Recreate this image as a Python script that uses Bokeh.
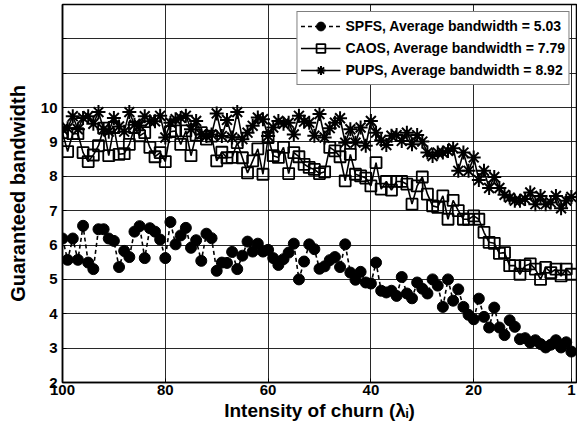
from bokeh.plotting import figure
from bokeh.models import Range1d, FixedTicker, Legend
from bokeh.embed import file_html
from bokeh.resources import INLINE

x_vals = list(range(100, 0, -1))

spfs = [6.19, 5.57, 6.19, 5.57, 6.56, 5.49, 5.3, 6.46, 6.46, 6.19,
        6.12, 5.36, 5.83, 5.65, 6.39, 6.55, 5.62, 6.49, 6.39, 6.16,
        5.62, 6.67, 6.02, 6.28, 6.5, 5.92, 6.14, 5.54, 6.33, 6.2,
        5.25, 5.49, 5.48, 5.8, 5.3, 5.69, 6.1, 5.81, 6.04, 5.81,
        5.86, 5.62, 5.42, 5.59, 5.78, 6.04, 5.0, 5.52, 6.02,
        5.88, 5.31, 5.38, 5.56, 5.65, 5.36, 6.02, 5.2, 4.99, 5.22,
        4.91, 4.88, 5.49, 4.67, 4.62, 4.67, 4.52, 5.07, 4.59, 4.45,
        4.91, 4.73, 4.59, 5.0, 4.82, 4.2, 5.0, 4.38, 4.71, 4.2,
        3.97, 3.84, 4.44, 3.91, 3.6, 4.18, 3.6, 3.38, 3.81, 3.62,
        3.26, 3.29, 3.16, 3.23, 3.12, 3.02, 3.1, 3.23, 3.02, 3.17, 2.9]

caos = [9.27, 8.72, 9.24, 9.24, 8.69, 8.43, 8.62, 8.89, 9.4, 8.6,
        9.42, 8.64, 8.66, 8.93, 9.42, 9.18, 9.27, 8.84, 8.57, 8.69, 8.43,
        9.3, 9.32, 8.93, 9.32, 8.6, 9.2, 9.27, 9.08, 9.17, 8.45,
        8.7, 8.54, 8.55, 8.98, 8.54, 8.1, 8.45, 8.8, 8.06, 9.13,
        8.6, 8.55, 8.84, 8.08, 8.69, 8.57, 8.35, 8.26,
        8.2, 8.08, 8.13, 8.84, 8.74, 8.57, 7.87, 8.64, 8.06, 8.01,
        7.95, 7.72, 8.4, 7.63, 7.85, 7.6, 7.85, 7.85, 7.77, 7.19,
        7.72, 7.98, 7.48, 7.14, 7.1, 7.43, 6.75, 7.3, 7.0, 6.75,
        6.75, 6.85, 6.75, 6.37, 6.08, 6.05, 5.76,
        5.78, 5.4, 5.4, 5.15, 5.4, 5.45, 5.3, 5.0, 5.35, 5.2,
        5.3, 5.1, 5.3, 5.15]

pups = [9.37, 9.4, 9.75, 9.37, 9.7, 9.75, 9.53, 9.87, 9.37, 9.3,
        9.7, 9.45, 9.3, 9.87, 9.5, 9.48, 9.75, 9.6, 9.6,
        9.76, 9.13, 9.56, 9.66, 9.7, 9.76, 9.37, 9.61, 9.22, 9.17,
        9.22, 9.83, 9.17, 9.64, 9.13, 9.87, 9.08, 9.27, 9.47, 9.71,
        9.66, 9.17, 9.42, 9.61, 9.53, 9.56, 9.22, 9.76, 9.59, 9.56,
        9.18, 9.81, 9.13, 9.4, 9.56, 9.69, 8.98, 9.37, 8.98, 9.42,
        8.89, 9.61, 9.27, 9.05, 8.91, 9.18, 9.2, 9.03, 9.27, 8.93,
        9.2, 9.01, 8.69, 8.59, 8.69, 8.69, 8.74, 8.82, 8.16, 8.69,
        8.16, 8.55, 7.89, 8.16, 7.66, 7.98, 7.66, 7.46, 7.38, 7.29,
        7.29, 7.34, 7.53, 7.19, 7.43, 7.19, 7.24, 7.43, 7.07, 7.29, 7.4]

labels = ["SPFS, Average bandwidth = 5.03",
          "CAOS, Average bandwidth = 7.79",
          "PUPS, Average bandwidth = 8.92"]

x_ticks = [100, 80, 60, 40, 20, 1]
y_ticks = [2, 3, 4, 5, 6, 7, 8, 9, 10, 11, 12, 13]
y_tick_labels = {11: "", 12: "", 13: ""}

FONT = "Liberation Sans"

p = figure(width=577, height=432, output_backend="svg", toolbar_location=None,
           x_range=Range1d(100, 0), y_range=Range1d(2, 13),
           min_border_left=62, min_border_right=1, min_border_top=4,
           min_border_bottom=50)
p.background_fill_color = "white"
p.border_fill_color = "white"
p.outline_line_color = "black"
p.outline_line_width = 1.5

# grid
p.xgrid.ticker = FixedTicker(ticks=x_ticks)
p.ygrid.ticker = FixedTicker(ticks=y_ticks)
for g in (p.xgrid, p.ygrid):
    g.grid_line_color = "#111111"
    g.grid_line_width = 1
    g.grid_line_alpha = 0.9

# axes
p.xaxis.ticker = FixedTicker(ticks=x_ticks)
p.yaxis.ticker = FixedTicker(ticks=y_ticks)
p.yaxis.major_label_overrides = y_tick_labels
for ax in (p.xaxis, p.yaxis):
    ax.axis_line_color = "black"
    ax.axis_line_width = 1.5
    ax.major_tick_in = 4
    ax.major_tick_out = 0
    ax.minor_tick_line_color = None
    ax.major_tick_line_color = "black"
    ax.major_label_text_font = FONT
    ax.major_label_text_font_style = "bold"
    ax.major_label_text_font_size = "15px"
    ax.major_label_text_color = "black"
    ax.axis_label_text_font = FONT
    ax.axis_label_text_font_style = "bold"
    ax.axis_label_text_color = "black"
p.xaxis.axis_label_text_font_size = "19px"
p.yaxis.axis_label_text_font_size = "20px"
p.xaxis.axis_label = "Intensity of churn (λᵢ)"
p.yaxis.axis_label = "Guaranteed bandwidth"
p.xaxis.major_label_standoff = 2
p.xaxis.axis_label_standoff = 2
p.yaxis.major_label_standoff = 5
p.yaxis.axis_label_standoff = 9

# series
l1 = p.line(x_vals, spfs, line_color="black", line_width=1.6, line_dash="4 3")
s1 = p.scatter(x_vals, spfs, marker="circle", size=11, fill_color="black",
               line_color="black")
l2 = p.line(x_vals, caos, line_color="black", line_width=1.6)
s2 = p.scatter(x_vals, caos, marker="square", size=11, fill_alpha=0,
               line_color="black", line_width=1.8)
l3 = p.line(x_vals, pups, line_color="black", line_width=1.6)
s3 = p.scatter(x_vals, pups, marker="asterisk", size=14,
               line_color="black", line_width=2)

legend = Legend(items=[(labels[0], [l1, s1]), (labels[1], [l2, s2]),
                       (labels[2], [l3, s3])],
                location="top_right")
legend.border_line_color = "black"
legend.border_line_width = 1
legend.background_fill_color = "white"
legend.background_fill_alpha = 1
legend.label_text_font = FONT
legend.label_text_font_style = "bold"
legend.label_text_font_size = "14px"
legend.label_text_color = "black"
legend.glyph_width = 40
legend.glyph_height = 22
legend.label_height = 22
legend.label_standoff = 5
legend.spacing = 0
legend.padding = 3
legend.margin = 7
p.add_layout(legend)

open("out.html", "w").write(file_html(p, INLINE))
